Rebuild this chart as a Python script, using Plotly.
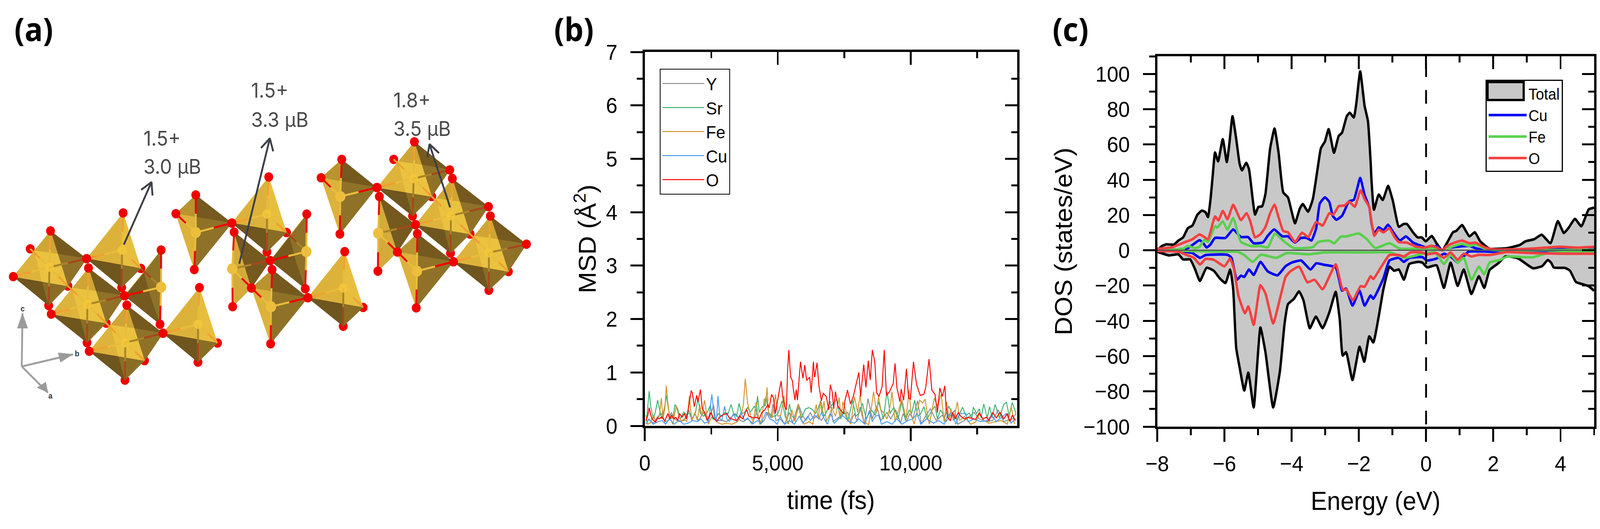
import plotly.graph_objects as go

W, H = 4340, 1354
FONT = "Liberation Sans"

# ---------- panel (b): MSD ----------
msd_labels = ["Y", "Sr", "Fe", "Cu", "O"]
msd_colors = ["#8C8C8C", "#3CB371", "#D0962F", "#4A9DF5", "#FF0000"]
y_t = [60,152,314,499,637,753,891,997,1122,1284,1468,1653,1768,1884,2022,2207,2392,2586,2669,2899,3084,3223,3407,3592,3707,3869,4054,4192,4331,4492,4608,4746,4816,4931,5093,5254,5439,5554,5771,5947,6062,6224,6339,6501,6639,6824,6972,7078,7216,7493,7632,7747,7885,7978,8093,8255,8393,8555,8717,8878,9109,9247,9432,9617,9709,9848,9963,10079,10254,10402,10494,10734,10956,11187,11325,11648,11764,12018,12387,12572,12849,13080,13287,13495,13818,13957]
y_v = [.03,.13,.05,.18,.23,.08,.10,.25,.13,.08,.10,.29,.10,.23,.10,.25,.08,.39,.10,.10,.08,.15,.23,.10,.08,.13,.05,.25,.03,.10,.25,.15,.41,.10,.13,.03,.25,.05,.41,.18,.10,.25,.13,.20,.10,.25,.46,.08,.13,.23,.25,.08,.23,.08,.35,.03,.51,.13,.37,.10,.25,.13,.30,.05,.23,.08,.23,.13,.47,.03,.13,.32,.10,.20,.08,.29,.03,.10,.25,.13,.08,.10,.30,.08,.13,.23]
sr_t = [60,106,166,222,314,383,485,568,637,753,813,891,983,1076,1136,1237,1330,1468,1584,1676,1791,1907,1999,2092,2207,2345,2461,2553,2669,2761,2899,3015,3130,3246,3338,3453,3546,3638,3754,3869,3961,4123,4192,4238,4308,4400,4492,4562,4654,4792,4908,5023,5162,5277,5346,5439,5531,5647,5785,5900,6039,6178,6316,6408,6501,6616,6732,6870,6985,7216,7355,7493,7632,7816,7932,8047,8186,8324,8509,8670,8786,8970,9109,9224,9363,9525,9663,9801,9940,10032,10148,10263,10379,10494,10610,10748,10910,11002,11117,11279,11427,11556,11741,11948,12064,12202,12295,12350,12479,12581,12641,12747,12872,12964,13056,13172,13333,13495,13597,13703,13818,13957]
sr_v = [.08,.32,.65,.37,.13,.23,.48,.28,.13,.37,.57,.30,.13,.20,.40,.32,.13,.26,.20,.25,.13,.25,.52,.23,.18,.25,.38,.13,.13,.23,.18,.25,.23,.40,.23,.18,.42,.23,.25,.35,.25,.37,.25,.56,.25,.35,.37,.56,.25,.18,.18,.25,.47,.18,.10,.41,.18,.13,.35,.15,.32,.34,.30,.23,.30,.47,.18,.30,.36,.50,.13,.28,.08,.48,.18,.23,.42,.13,.30,.20,.45,.13,.64,.23,.35,.13,.45,.10,.30,.23,.48,.18,.23,.36,.13,.25,.37,.13,.30,.16,.37,.23,.13,.35,.20,.24,.13,.35,.23,.32,.15,.41,.15,.36,.15,.40,.15,.40,.44,.18,.44,.23]
fe_t = [46,106,199,337,406,545,623,683,753,808,868,937,1053,1182,1284,1376,1468,1584,1676,1768,1884,1976,2068,2138,2244,2322,2392,2530,2715,2899,3084,3269,3500,3638,3707,3777,3869,3984,4077,4192,4261,4377,4492,4538,4598,4654,4792,4917,5000,5116,5231,5323,5393,5531,5647,5771,5877,5993,6178,6316,6445,6524,6593,6662,6741,6824,6962,7031,7170,7308,7378,7447,7539,7632,7747,7885,8001,8093,8232,8416,8509,8601,8717,8786,8878,8970,9109,9247,9294,9409,9548,9663,9825,9940,10009,10125,10240,10332,10448,10540,10633,10702,10886,11002,11141,11256,11348,11441,11510,11602,11755,11833,12018,12249,12433,12595,12756,12941,13218,13403,13634,13773,13911]
fe_v = [.20,.03,.05,.20,.08,.18,.52,.13,.32,.75,.42,.15,.03,.37,.18,.08,.13,.08,.56,.10,.25,.10,.40,.18,.48,.23,.03,.18,.07,.03,.05,.03,.08,.23,.40,.88,.42,.18,.08,.45,.20,.03,.51,.37,.72,.23,.15,.59,.18,.20,.56,.13,.03,.30,.08,.40,.13,.03,.08,.03,.40,.13,.46,.23,.46,.08,.23,.35,.18,.53,.13,.45,.32,.13,.03,.55,.25,.57,.08,.02,.30,.64,.25,.55,.30,.25,.13,.42,.64,.08,.32,.50,.13,.68,.23,.03,.27,.48,.43,.50,.18,.03,.52,.37,.59,.08,.45,.13,.32,.10,.45,.10,.18,.03,.07,.23,.10,.05,.08,.10,.03,.36,.03]
cu_t = [46,175,314,499,660,776,937,1099,1284,1468,1630,1791,1976,2115,2253,2392,2521,2623,2692,2752,2830,2899,3001,3084,3176,3338,3453,3615,3754,3869,4031,4238,4377,4562,4700,4839,4977,5093,5254,5439,5623,5808,5947,6131,6224,6385,6547,6639,6778,6870,6985,7124,7285,7447,7678,7885,8047,8278,8440,8555,8670,8786,8901,9109,9294,9478,9663,9894,10079,10240,10379,10586,10863,11048,11256,11371,11556,11695,11833,12064,12156,12387,12618,12895,13033,13218,13588,13773,13934]
cu_v = [.05,.12,.03,.08,.10,.03,.13,.03,.10,.03,.05,.10,.08,.13,.05,.08,.59,.13,.08,.56,.13,.10,.37,.13,.08,.23,.08,.25,.10,.15,.03,.10,.05,.26,.13,.10,.03,.18,.03,.10,.03,.18,.05,.18,.10,.20,.13,.25,.10,.03,.23,.05,.13,.19,.08,.05,.13,.03,.29,.08,.18,.20,.03,.08,.03,.13,.03,.10,.13,.23,.03,.13,.05,.10,.03,.18,.25,.03,.23,.23,.08,.13,.08,.10,.20,.08,.23,.05,.13]
o_t = [46,106,166,212,268,337,406,476,545,637,753,868,937,1007,1076,1168,1237,1307,1399,1491,1561,1630,1745,1791,1861,1953,1999,2092,2161,2253,2345,2484,2599,2715,2807,2946,3084,3176,3315,3453,3569,3684,3823,3915,4077,4192,4308,4400,4515,4631,4677,4769,4839,4908,5023,5069,5125,5185,5254,5323,5370,5416,5462,5485,5554,5577,5647,5693,5739,5854,5947,6016,6085,6201,6256,6339,6385,6478,6547,6639,6709,6824,6916,6976,7054,7101,7170,7262,7355,7470,7516,7622,7733,7839,7955,8047,8116,8232,8315,8403,8476,8555,8647,8717,8809,8924,9003,9086,9201,9340,9409,9478,9594,9640,9732,9838,9917,9986,10102,10217,10356,10494,10563,10688,10794,10910,11002,11094,11187,11279,11325,11394,11487,11579,11671,11787,11879,12018,12156,12295,12433,12572,12710,12849,12941,13080,13218,13357,13495,13634,13726,13818,13934]
o_v = [.10,.18,.34,.23,.13,.10,.07,.15,.13,.17,.09,.23,.13,.20,.13,.16,.10,.23,.16,.23,.13,.30,.66,.61,.36,.57,.45,.68,.32,.25,.10,.25,.13,.09,.16,.21,.23,.15,.12,.10,.18,.13,.31,.18,.15,.16,.13,.25,.30,.40,.34,.59,.52,.23,.57,.69,.84,.55,.37,.30,1.05,1.42,1.06,.91,.84,.72,.48,.68,.48,1.20,.89,1.14,.85,.91,.62,1.20,.91,1.18,.75,.47,.61,.55,.30,.77,.62,.32,.64,.37,.30,.23,.45,.67,.41,.55,.80,1.00,.55,1.15,.72,1.22,.86,1.42,1.20,.62,.55,.74,1.42,.57,.64,.79,1.17,.72,.45,.69,.48,1.07,.52,.50,1.20,.78,.57,.59,.72,1.25,.67,.59,.25,.71,.55,.75,.37,.15,.10,.25,.13,.25,.18,.13,.16,.14,.12,.24,.13,.16,.10,.25,.15,.25,.13,.23,.08,.20,.10]

# ---------- panel (c): DOS ----------
total_up_E = [-8,-7.86,-7.72,-7.51,-7.37,-7.23,-7.09,-6.95,-6.81,-6.67,-6.56,-6.49,-6.42,-6.35,-6.28,-6.19,-6.05,-5.93,-5.86,-5.76,-5.65,-5.55,-5.48,-5.35,-5.27,-5.16,-5.09,-4.99,-4.88,-4.78,-4.64,-4.51,-4.39,-4.25,-4.11,-4.0,-3.9,-3.76,-3.67,-3.51,-3.37,-3.23,-3.13,-3.01,-2.9,-2.74,-2.6,-2.5,-2.36,-2.27,-2.15,-2.08,-1.96,-1.83,-1.73,-1.65,-1.62,-1.55,-1.41,-1.29,-1.13,-0.99,-0.81,-0.67,-0.57,-0.39,-0.25,-0.13,-0.01,0.17,0.31,0.48,0.66,0.8,0.9,1.07,1.29,1.45,1.61,1.89,2.41,2.79,2.95,3.22,3.44,3.7,3.92,4.1,4.24,4.43,4.62,4.84,5]
total_up_v = [0,2.4,3.4,3.2,5.5,7.3,12.5,14.1,20,22.5,21.5,18.8,28,42,55.4,50.4,63,50,59.3,76,63.2,49.2,45.3,49.6,46,29,20.3,24.6,24.9,32,57.8,69,55.4,32.8,30,21.9,15.3,23.5,26.2,21.9,29,46,57.8,61.7,68.7,55.3,64.8,66.7,76,78,75.3,82.7,101.4,81.9,73.3,50,38.3,23,31.6,28.5,36.5,28.1,13.3,14.9,14.9,10.2,7.3,7.3,5.1,8.1,4,0,5.5,10.2,11,14.3,7.9,10.2,5.1,0.9,1.2,3,5,6.3,8.8,4,16.5,9.8,12.7,17.8,13.6,23.2,24.2]
total_dn_E = [-8,-7.65,-7.37,-7.23,-7.02,-6.88,-6.73,-6.53,-6.32,-6.14,-5.97,-5.83,-5.74,-5.65,-5.55,-5.41,-5.29,-5.13,-4.93,-4.78,-4.55,-4.35,-4.21,-4.11,-3.93,-3.78,-3.65,-3.46,-3.28,-3.08,-2.88,-2.69,-2.57,-2.48,-2.38,-2.19,-1.98,-1.84,-1.69,-1.57,-1.41,-1.27,-1.09,-0.95,-0.81,-0.66,-0.5,-0.22,-0.11,0.03,0.31,0.53,0.73,0.94,1.12,1.35,1.57,1.73,1.89,2.14,2.36,2.74,3.18,3.46,3.62,3.72,3.8,4.13,4.28,4.46,4.68,4.83,5]
total_dn_v = [-0.8,-2.9,-2.3,-5.2,-5.2,-10.5,-17.4,-9.9,-11.6,-15.9,-18.6,-10.9,-22.1,-55.4,-66.3,-79.5,-69.4,-89.1,-43.8,-57.8,-89.1,-68.6,-41.5,-30.6,-27.5,-23.3,-28.3,-44.2,-37.6,-44.2,-35.3,-23.6,-39.1,-59.7,-57.8,-73.6,-54.7,-63.2,-48.8,-52.3,-37.6,-22.1,-9.3,-11.6,-10.9,-16.7,-7.8,-6.6,-7,-9.7,-8.5,-21.3,-7,-20.2,-10.9,-24.8,-14.7,-21.3,-11.2,-7.5,-3.5,-4.6,-10.2,-8.9,-5.5,-7,-9.8,-10,-11.5,-18,-19.4,-20.3,-23]
cu_up_E = [-8,-7.37,-7.09,-6.91,-6.74,-6.63,-6.53,-6.42,-6.28,-5.97,-5.74,-5.51,-5.3,-5.13,-4.85,-4.71,-4.52,-4.28,-4.11,-3.9,-3.72,-3.55,-3.41,-3.27,-3.16,-3.01,-2.88,-2.78,-2.67,-2.5,-2.29,-2.15,-1.96,-1.83,-1.69,-1.62,-1.54,-1.41,-1.27,-1.13,-0.99,-0.78,-0.6,-0.39,-0.13,0.06,0.31,0.48,0.66,0.83,1.04,1.29,1.47,1.75,1.9,2.5,3,4,5]
cu_up_v = [0,0.5,1.2,3.6,5.7,4,1.6,3.2,7,7,11.8,7.5,7.5,4,4.5,8.2,11.8,7.9,7.9,4.4,7,7,5.5,12.5,26.6,30,27.4,19.6,17.3,19.6,27.8,28.6,41,31.4,24.4,14.9,9.4,13,11.4,14.5,10.6,5.5,7.9,4.4,2.4,1.2,2.4,0,1.2,1.8,2.2,2.4,1.2,0,0.2,0.3,0.3,1,1]
fe_up_E = [-8,-7.23,-7.09,-6.88,-6.74,-6.6,-6.49,-6.28,-6.21,-6.05,-5.91,-5.74,-5.51,-5.2,-4.92,-4.71,-4.5,-4.21,-3.93,-3.37,-3.2,-2.88,-2.74,-2.53,-2.39,-2,-1.76,-1.51,-1.09,-0.78,0.13,0.48,0.83,1.07,1.29,1.47,1.75,2.01,5]
fe_up_v = [0,0.9,2.4,1.2,2,5.9,4.7,13.7,12.9,16.4,11.7,18.3,4.7,2.4,2.4,1.6,9.4,4.7,1.2,1.8,4.7,5.5,3.9,7.8,7.8,9.5,6.2,1.2,4,0.9,1.2,0,2.4,3.6,2.4,3.2,0.9,0.1,0.3]
o_up_E = [-8,-7.58,-7.16,-6.95,-6.74,-6.6,-6.49,-6.28,-6.18,-6.05,-5.91,-5.74,-5.51,-5.34,-5.23,-5.09,-4.92,-4.78,-4.64,-4.51,-4.39,-4.25,-4.11,-3.9,-3.69,-3.51,-3.27,-3.08,-2.88,-2.76,-2.6,-2.43,-2.29,-2.12,-1.95,-1.83,-1.7,-1.62,-1.54,-1.41,-1.27,-1.09,-0.95,-0.81,-0.57,-0.29,-0.01,0.17,0.31,0.48,0.62,0.8,1.07,1.29,1.47,1.75,2.01,2.6,3.2,4,4.5,5]
o_up_v = [0.9,1.6,4.7,6.3,9,7.5,6.3,19.2,16.9,22.3,17.6,25.8,17.1,21,16.3,7.3,9.3,13.2,21,25.9,18.7,10.9,10.2,4.7,10,7.5,16,14,21,20.2,25,25.4,27.6,24.7,34,29,25,15.7,8.2,11.7,10.2,12.5,7.8,4.7,4.3,2,1.6,2.6,1.6,0,2.4,4,5.5,4,4.3,1.6,0.5,0.5,1,2,1.5,2]
cu_dn_E = [-8,-7.3,-6.95,-6.73,-6.56,-5.9,-5.79,-5.63,-5.51,-5.41,-5.27,-5.13,-4.93,-4.71,-4.42,-4.18,-4,-3.72,-3.44,-3.27,-3.02,-2.69,-2.5,-2.38,-2.19,-1.98,-1.83,-1.65,-1.57,-1.27,-1.09,-0.81,-0.66,-0.5,-0.11,0.03,0.31,0.53,0.73,0.94,1.12,1.26,1.89,2.5,3.2,4,5]
cu_dn_v = [0,-0.5,-1.6,-4.3,-2.7,-2.6,-4.3,-16.7,-14.4,-15.1,-10.9,-14,-6.6,-12,-14.2,-9,-7,-5.8,-10.9,-7.4,-8.3,-9.7,-22.9,-21.7,-31.4,-22.9,-31.4,-25.6,-27.5,-15.9,-5.8,-4.3,-6.6,-4.3,-3.9,-5.8,-4.7,-2,-3.5,-7,-3.5,-0.8,-0.8,-0.8,-1.2,-0.6,-0.5]
fe_dn_E = [-8,-6.18,-5.62,-5.41,-5.16,-4.92,-4.46,-4.14,-3.51,-3.02,-1.76,-1.06,-0.64,-0.08,0.27,0.53,0.73,0.94,1.12,1.35,1.57,1.73,1.89,2.2,2.41,3.17,3.6,5]
fe_dn_v = [0,-0.8,-0.8,-2.7,-6.6,-2.5,-4.3,-1.6,-2.3,-1.2,-1.2,-1.2,-4.3,-1.9,-1.2,-7.8,-2.7,-7,-4.3,-16.7,-9.3,-13.6,-7,-5.5,-3.6,-4,-1.7,-0.8]
o_dn_E = [-8,-7.37,-7.12,-6.91,-6.73,-6.56,-6.32,-6,-5.83,-5.72,-5.58,-5.39,-5.29,-5.13,-4.93,-4.78,-4.55,-4.35,-4.18,-4.04,-3.78,-3.53,-3.32,-3.08,-2.69,-2.48,-2.38,-2.18,-1.95,-1.83,-1.65,-1.57,-1.37,-1.09,-0.81,-0.66,-0.46,-0.11,0.03,0.31,0.53,0.73,0.94,1.12,1.35,1.57,1.89,2.4,3,4,5]
o_dn_v = [-0.4,-0.8,-2.7,-4.3,-8.1,-4.9,-5.4,-9.1,-4.7,-10.5,-26,-35.7,-31.8,-42.3,-19.8,-24.4,-41.5,-27.5,-15.1,-12,-9.3,-18.2,-16.7,-22.1,-8,-22.5,-22.1,-28.3,-20.4,-20.7,-14.7,-16.3,-10.5,-2.7,-2.7,-3.5,-1.2,-1.3,-2.3,-1.6,-4.3,-1.2,-5.4,-2,-3.5,-2.6,-2.7,-1,-1.5,-2,-2]

# ---------- panel (a): crystal sketch, vertices in image pixels ----------
octa_full = [
    [(137,591),(36,708),(235,662),(184,732),(132,782),(82,637),(134,684)],
    [(240,686),(139,804),(338,757),(288,827),(236,877),(184,732),(237,779)],
    [(344,781),(242,899),(442,853),(392,923),(339,973),(288,827),(340,877)],
    [(1124,363),(1023,480),(1220,435),(1171,503),(1119,553),(1068,408),(1122,457)],
    [(1227,457),(1127,575),(1325,529),(1275,599),(1222,648),(1171,503),(1223,552)],
    [(1330,553),(1230,670),(1428,625),(1379,695),(1326,743),(1275,599),(1326,647)],
]
pyr_front = [
    [(334,545),(235,662),(382,687),(330,736),(331,640)],
    [(541,736),(442,853),(590,878),(537,927),(537,830)],
    [(729,453),(629,571),(777,595),(724,645),(724,548)],
    [(935,644),(835,762),(985,787),(931,835),(931,737)],
]
pyr_side = [
    [(437,640),(338,757),(382,687),(434,830),(437,735)],
    [(832,548),(733,667),(777,595),(828,739),(831,644)],
]
pyr_ball = [
    [(531,499),(477,547),(629,571),(527,690),(531,595)],
    [(738,690),(682,737),(835,762),(734,880),(735,785)],
    [(927,408),(871,455),(1022,480),(922,599),(923,503)],
    [(1132,598),(1078,645),(1230,670),(1129,788),(1131,694)],
]
pyr_edge = [
    [(635,594),(733,667),(682,737),(631,785),(630,688)],
    [(1029,503),(1127,575),(1078,645),(1025,694),(1026,597)],
]
arrow_tails = [(336,626),(649,675),(1221,531)]
arrow_tips = [(411,466),(732,354),(1165,369)]
label_charge = ["1.5+","1.5+","1.8+"]
label_moment = ["3.0 µB","3.3 µB","3.5 µB"]
label_x = [387,679,1065]
label_charge_y = [354,231,256]
label_moment_y = [426,306,330]
triad_origin = (59,938)
triad_tips = {"c":(61,802),"b":(198,907),"a":(130,1005)}
triad_bases = {"c":[(47,840),(75,840)],"b":[(158,903),(164,927)],"a":[(101,992),(124,978)]}
triad_label_xy = {"c":(61,790),"b":(209,905),"a":(137,1013)}


def lerp(a, b, t):
    return (a[0] + (b[0] - a[0]) * t, a[1] + (b[1] - a[1]) * t)


fig = go.Figure()
AX5 = dict(xaxis="x5", yaxis="y5", hoverinfo="skip", showlegend=False)


def poly(points, color):
    xs = [p[0] for p in points] + [points[0][0]]
    ys = [p[1] for p in points] + [points[0][1]]
    fig.add_trace(go.Scatter(x=xs, y=ys, mode="lines", fill="toself", fillcolor=color,
                             line=dict(color=color, width=1), **AX5))


faces, bonds, back_atoms, front_atoms, centres, balls = [], {}, [], [], [], []


def bond(c, v, inner, outer, width=5, frac=0.5):
    m = lerp(c, v, frac)
    for a, b, col in ((c, m, inner), (m, v, outer)):
        bonds.setdefault((col, width), []).append((a, b))


GOLD, ORG, BRN, RED = "#E9BC3B", "#F0A030", "#A5481C", "#F00000"

for T, L, R, FR, B, BL, C in octa_full:
    A, D, E = lerp(L, T, .566), lerp(T, FR, .42), lerp(L, FR, .53)
    faces += [([L, E, B], "#6F551E"), ([E, FR, B], "#8A6D25"), ([R, FR, B], "#8F7228"),
              ([T, R, D], "#76591E"), ([D, R, FR], "#8F7228"), ([T, A, D], "#CFA535"),
              ([A, L, E], "#DDB33C"), ([A, E, FR, D], "#EBC23F")]
    for v in (T, L, FR, BL):
        bond(C, v, GOLD, ORG)
    bond(C, R, "#A8842A", BRN)
    bond(C, B, "#A8842A", BRN)
    back_atoms += [BL, B, FR]
    front_atoms += [T, L, R]
    centres.append(C)

for T, L, FR, B, C in pyr_front:
    M = lerp(L, FR, (T[0] - L[0]) / (FR[0] - L[0]))
    faces += [([T, L, M], "#DDB23B"), ([T, M, FR], "#E8BE3F"), ([L, M, B], "#6F551E"), ([M, FR, B], "#8A6D25")]
    for v in (T, L, FR):
        bond(C, v, GOLD, ORG)
    bond(C, B, "#A8842A", BRN)
    back_atoms += [B, FR]
    front_atoms += [T, L]
    centres.append(C)

for T, L, FR, B, C in pyr_side:
    Q1 = (FR[0] + 8, FR[1] + 10)
    Q2 = (C[0] - 28, C[1] + 28)
    faces += [([T, Q1, Q2, B], "#8F7228"), ([L, Q1, Q2, B], "#75591E"), ([T, L, Q1], "#DDB23B")]
    bond(C, T, GOLD, RED)
    bond(C, L, GOLD, RED)
    bond(C, B, GOLD, RED)
    bond(C, FR, "#A8842A", BRN)
    back_atoms += [FR]
    front_atoms += [T, L, B]
    balls.append(C)

for T, L, R, B, C in pyr_ball:
    M = lerp(L, R, (T[0] - L[0]) / (R[0] - L[0]))
    faces += [([T, L, M], "#B8932F"), ([L, M, B], "#DDB23B"), ([T, M, R], "#75591E"), ([M, R, B], "#8F7228")]
    for v in (T, L, R, B):
        bond(C, v, GOLD, RED)
    front_atoms += [T, L, R, B]
    balls.append(C)

for T, R, K, B, C in pyr_edge:
    faces += [([T, K, B], "#D4AB3A"), ([T, R, K], "#75591E")]
    bond(C, T, GOLD, RED)
    bond(C, K, GOLD, RED)
    bond(C, B, GOLD, RED)
    bond(C, R, "#A8842A", BRN)
    front_atoms += [T, R, K, B]
    balls.append(C)


def dots(points, size, color, opacity=1):
    fig.add_trace(go.Scatter(x=[p[0] for p in points], y=[p[1] for p in points], mode="markers",
                             marker=dict(size=size, color=color, opacity=opacity, line=dict(width=0)), **AX5))


dots(back_atoms, 24, RED)
for pts, col in faces:
    poly(pts, col)
for (col, width), segs in bonds.items():
    xs, ys = [], []
    for a, b in segs:
        xs += [a[0], b[0], None]
        ys += [a[1], b[1], None]
    fig.add_trace(go.Scatter(x=xs, y=ys, mode="lines", line=dict(color=col, width=width), **AX5))
dots(centres, 24, "#F3C83A", 0.85)
dots(balls, 28, "#EDBE3E")
dots(front_atoms, 24, RED)

for tail, tip in zip(arrow_tails, arrow_tips):
    dx, dy = tip[0] - tail[0], tip[1] - tail[1]
    n = (dx * dx + dy * dy) ** 0.5
    ux, uy = dx / n, dy / n
    wing1 = (tip[0] - 30 * ux - 17 * uy, tip[1] - 30 * uy + 17 * ux)
    wing2 = (tip[0] - 30 * ux + 17 * uy, tip[1] - 30 * uy - 17 * ux)
    fig.add_trace(go.Scatter(x=[tail[0], tip[0], None, wing1[0], tip[0], wing2[0]],
                             y=[tail[1], tip[1], None, wing1[1], tip[1], wing2[1]], mode="lines",
                             line=dict(color="#3C4048", width=5), **AX5))

for k, tip in triad_tips.items():
    fig.add_trace(go.Scatter(x=[triad_origin[0], tip[0]], y=[triad_origin[1], tip[1]], mode="lines",
                             line=dict(color="#A0A0A0", width=5), **AX5))
    poly([tip] + triad_bases[k], "#9A9A9A")

msd_series = [(y_t, y_v), (sr_t, sr_v), (fe_t, fe_v), (cu_t, cu_v), (o_t, o_v)]
for name, col, (t, v) in zip(msd_labels, msd_colors, msd_series):
    fig.add_trace(go.Scatter(x=t, y=v, mode="lines", name=name, line=dict(color=col, width=2.5),
                             xaxis="x", yaxis="y", legend="legend", hoverinfo="skip"))
fig.add_trace(go.Scatter(x=[None], y=[None], xaxis="x2", yaxis="y2", showlegend=False))

BLK = "#000000"
DOS_W = 6.5
SMOOTH = dict(shape="spline", smoothing=0.45)
for e, v in ((total_up_E, total_up_v), (total_dn_E, total_dn_v)):
    fig.add_trace(go.Scatter(x=e, y=v, mode="lines", fill="tozeroy", fillcolor="#C8C8C8",
                             line=dict(color=BLK, width=DOS_W, **SMOOTH), xaxis="x3", yaxis="y3",
                             showlegend=False, hoverinfo="skip"))
fig.add_trace(go.Scatter(x=[None], y=[None], mode="lines", name="Total", xaxis="x3", yaxis="y3",
                         legend="legend2", line=dict(color="rgba(0,0,0,0)", width=1)))
dos_series = [("Cu", "#0000F5", cu_up_E, cu_up_v, cu_dn_E, cu_dn_v),
              ("Fe", "#5BCF4F", fe_up_E, fe_up_v, fe_dn_E, fe_dn_v),
              ("O", "#F44040", o_up_E, o_up_v, o_dn_E, o_dn_v)]
for name, col, e1, v1, e2, v2 in dos_series:
    fig.add_trace(go.Scatter(x=e1, y=v1, mode="lines", name=name, line=dict(color=col, width=DOS_W, **SMOOTH),
                             xaxis="x3", yaxis="y3", legend="legend2", hoverinfo="skip"))
    fig.add_trace(go.Scatter(x=e2, y=v2, mode="lines", line=dict(color=col, width=DOS_W, **SMOOTH), showlegend=False,
                             xaxis="x3", yaxis="y3", hoverinfo="skip"))
fig.add_trace(go.Scatter(x=[-8, 5], y=[0, 0], mode="lines", line=dict(color="#555555", width=3),
                         xaxis="x3", yaxis="y3", showlegend=False, hoverinfo="skip"))
fig.add_trace(go.Scatter(x=[0, 0], y=[106, -100], mode="lines", line=dict(color=BLK, width=5, dash="35px,33.4px"),
                         xaxis="x3", yaxis="y3", showlegend=False, hoverinfo="skip"))
fig.add_trace(go.Scatter(x=[None], y=[None], xaxis="x4", yaxis="y4", showlegend=False))

TICK_FONT = dict(family=FONT, size=56, color="black")
TITLE_FONT = dict(family=FONT, size=66, color="black")


def dom_x(a, b):
    return [a / W, b / W]


def dom_y(top, bottom):
    return [1 - bottom / H, 1 - top / H]


def main_axis(domain, rng, dtick, minor, title, standoff, label_gap):
    return dict(domain=domain, range=rng, dtick=dtick, tick0=0, showgrid=False, zeroline=False,
                showline=True, linecolor="black", linewidth=6, ticks="outside", ticklen=33, tickwidth=5,
                tickcolor="black", tickfont=TICK_FONT, ticklabelstandoff=label_gap,
                minor=dict(dtick=minor, tick0=0, ticks="outside", ticklen=16, tickwidth=5, tickcolor="black", showgrid=False),
                title=dict(text=title, font=TITLE_FONT, standoff=standoff), automargin=False)


def mirror_axis(domain, rng, dtick, minor, side, overlay, anchor):
    return dict(domain=domain, range=rng, dtick=dtick, tick0=0, showgrid=False, zeroline=False, side=side,
                overlaying=overlay, anchor=anchor, showline=True, linecolor="black", linewidth=6, ticks="inside",
                ticklen=33, tickwidth=5, tickcolor="black", showticklabels=False,
                minor=dict(dtick=minor, tick0=0, ticks="inside", ticklen=16, tickwidth=5, tickcolor="black", showgrid=False))


bx, by = dom_x(1749, 2759), dom_y(133, 1090)
cx, cy = dom_x(3139, 4324), dom_y(144, 1092)
bxr, byr = [0, 14000], [0, 7]
cxr, cyr = [-8, 5], [-100, 110]

xb = main_axis(bx, bxr, 5000, 2500, "time (fs)", 44, 8)
xb["tickformat"] = ",d"
xb["anchor"] = "y"
yb = main_axis(by, byr, 1, 0.5, "MSD (Å<sup>2</sup>)", 8, 24)
yb["anchor"] = "x"
xc = main_axis(cx, cxr, 2, 1, "Energy (eV)", 44, 8)
xc["anchor"] = "y3"
yc = main_axis(cy, cyr, 20, 10, "DOS (states/eV)", 11, 24)
yc["anchor"] = "x3"


def ann(text, px, py, font, xanchor="center"):
    return dict(text=text, x=px / W, y=1 - py / H, xref="paper", yref="paper", showarrow=False,
                xanchor=xanchor, yanchor="middle", font=font)


annotations = [
    ann("(a)", 91, 73, dict(family="Open Sans", size=82, color="black", weight=700)),
    ann("(b)", 1556, 73, dict(family="Open Sans", size=82, color="black", weight=700)),
    ann("(c)", 2904, 73, dict(family="Open Sans", size=82, color="black", weight=700)),
]
LBL = dict(family="Inter", size=52, color="#4A4A4A")
for i in range(3):
    annotations.append(ann(label_charge[i], label_x[i], label_charge_y[i], LBL, "left"))
    annotations.append(ann(label_moment[i], label_x[i], label_moment_y[i], LBL, "left"))
for k, (px, py) in triad_label_xy.items():
    annotations.append(ann(k, px, py, dict(family="Liberation Sans", size=20, color="#333333", weight=700)))

shapes = [dict(type="rect", xref="paper", yref="paper", x0=4035 / W, x1=4133 / W, y0=1 - 256 / H, y1=1 - 210 / H,
               fillcolor="#C8C8C8", line=dict(color="black", width=6), layer="above")]

fig.update_layout(
    width=W, height=H, autosize=False, margin=dict(l=0, r=0, t=0, b=0, pad=0),
    paper_bgcolor="white", plot_bgcolor="white", font=dict(family=FONT, color="black"),
    hovermode=False,
    xaxis=xb, yaxis=yb,
    xaxis2=mirror_axis(bx, bxr, 5000, 2500, "top", "x", "y2"),
    yaxis2=mirror_axis(by, byr, 1, 0.5, "right", "y", "x2"),
    xaxis3=xc, yaxis3=yc,
    xaxis4=mirror_axis(cx, cxr, 2, 1, "top", "x3", "y4"),
    yaxis4=mirror_axis(cy, cyr, 20, 10, "right", "y3", "x4"),
    xaxis5=dict(domain=[0, 1500 / W], range=[0, 1500], visible=False, anchor="y5"),
    yaxis5=dict(domain=[0, 1], range=[H, 0], visible=False, anchor="x5"),
    legend=dict(x=1790 / W, y=1 - 176 / H, xanchor="left", yanchor="top", bgcolor="rgba(255,255,255,0)",
                bordercolor="black", borderwidth=2, font=dict(family=FONT, size=45, color="black"),
                itemwidth=113, traceorder="normal"),
    legend2=dict(x=4030 / W, y=1 - 204 / H, xanchor="left", yanchor="top", bgcolor="rgba(255,255,255,0)",
                 bordercolor="black", borderwidth=3, font=dict(family=FONT, size=40, color="black"),
                 itemwidth=103, traceorder="normal"),
    annotations=annotations, shapes=shapes,
)
# The window may be narrower than the figure (browsers cap its width): fit the figure to it.
FIT_JS = """
document.documentElement.style.overflow='hidden';
document.body.style.margin='0';
document.body.style.overflow='hidden';
var gd=document.querySelector('.plotly-graph-div');
var s=Math.min(1,window.innerWidth/4340);
gd.style.transformOrigin='0 0';
gd.style.transform='scale('+s+',1)';
"""
fig.write_html("out.html", post_script=FIT_JS, config={"displayModeBar": False})
